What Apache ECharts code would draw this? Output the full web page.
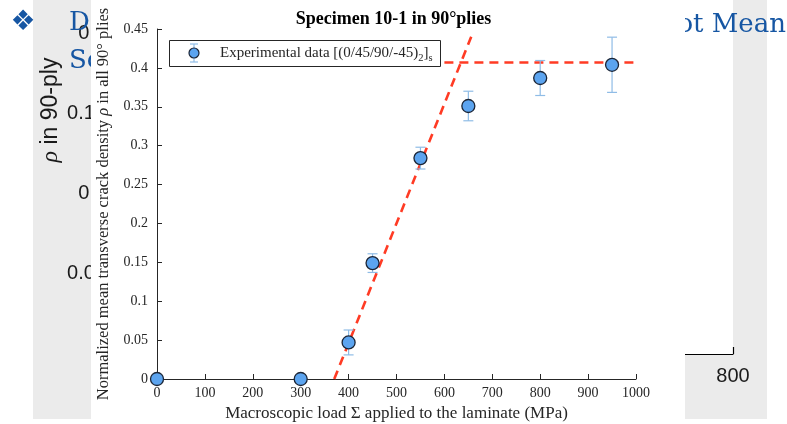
<!DOCTYPE html>
<html>
<head>
<meta charset="utf-8">
<script src="https://cdn.jsdelivr.net/npm/echarts@6/dist/echarts.min.js"></script>
<style>
  html, body { margin: 0; padding: 0; background: #fff; }
  #chart { width: 787px; height: 424px; }
</style>
</head>
<body>
<div id="chart"></div>
<script>
// Crack density measurements, specimen 10-1 (90° plies)
const loads   = [0, 300, 400, 450, 550, 650, 800, 950];               // MPa
const rhoMean = [0, 0, 0.047, 0.149, 0.284, 0.351, 0.387, 0.404];     // normalized density
const rhoErr  = [0, 0, 0.016, 0.012, 0.014, 0.019, 0.0225, 0.0355];   // half-width of error bar

// Fitted trend: linear growth then saturation
const fitRise    = [[370, 0], [656, 0.44]];
const fitPlateau = [[600, 0.407], [1040, 0.407]];

// Main axes ranges [min, max, step]
const xRange = [0, 1000, 100];
const yRange = [0, 0.45, 0.05];

// Slide figure behind the plot (axes partly visible)
const bgXRange = [0, 800, 100];
const bgYRange = [0, 0.25, 0.05];

const serif = 'Liberation Serif';
const sans = 'Liberation Sans';
const axisInk = '#262626';
const markerFill = '#5ca4ef';
const markerEdge = '#1b2536';
const barColor = '#8fbce6';
const fitColor = '#ff3b24';
const slideBlue = '#1656a3';

function textWidth(str, font) {
  const ctx = document.createElement('canvas').getContext('2d');
  ctx.font = font;
  return ctx.measureText(str).width;
}

// Legend pieces (with subscripts)
const legX = 169, legY = 40, legW = 271, legH = 26;
const legTextX = 220, legMidY = legY + legH / 2;
const legFont = 15, legSub = 10.5;
const part1 = 'Experimental data [(0/45/90/-45)';
const w1 = textWidth(part1, legFont + 'px "' + serif + '"');
const w2 = textWidth('2', legSub + 'px "' + serif + '"');
const w3 = textWidth(']', legFont + 'px "' + serif + '"');

const chart = echarts.init(document.getElementById('chart'), null, { renderer: 'canvas' });

const option = {
  animation: false,
  backgroundColor: '#fff',
  title: {
    text: 'Specimen 10-1 in 90°plies',
    left: 'center',
    top: 5,
    z: 10,
    textStyle: { fontFamily: serif, fontWeight: 'bold', fontSize: 18, color: '#000' }
  },
  grid: [
    { left: 157, right: 151, top: 29, bottom: 45, z: 4, outerBoundsMode: 'none', containLabel: false },
    { left: 120, right: 54, top: -47, bottom: 70, z: 1, show: true, backgroundColor: '#fff', borderWidth: 0,
      outerBoundsMode: 'none', containLabel: false }
  ],
  xAxis: [
    {
      gridIndex: 0, type: 'value', min: xRange[0], max: xRange[1], interval: xRange[2], z: 5,
      name: 'Macroscopic load Σ applied to the laminate (MPa)',
      nameLocation: 'middle', nameGap: 24,
      nameTextStyle: { fontFamily: serif, fontSize: 17, color: axisInk },
      axisLine: { lineStyle: { color: axisInk, width: 1 } },
      axisTick: { inside: true, length: 5, lineStyle: { color: axisInk } },
      axisLabel: { fontFamily: serif, fontSize: 14, color: axisInk, margin: 7, formatter: v => String(v) },
      splitLine: { show: false }
    },
    {
      gridIndex: 1, type: 'value', min: bgXRange[0], max: bgXRange[1], interval: bgXRange[2], z: 1,
      axisLine: { lineStyle: { color: '#000', width: 1.2 } },
      axisTick: { inside: true, length: 7, lineStyle: { color: '#000', width: 1.2 } },
      axisLabel: { fontFamily: sans, fontSize: 20, color: '#1a1a1a', margin: 12, showMaxLabel: true },
      splitLine: { show: false }
    }
  ],
  yAxis: [
    {
      gridIndex: 0, type: 'value', min: yRange[0], max: yRange[1], interval: yRange[2], z: 5,
      name: 'Normalized mean transverse crack density {i|ρ} in all 90° plies',
      nameLocation: 'middle', nameGap: 40,
      nameTextStyle: {
        fontFamily: serif, fontSize: 16.5, color: axisInk,
        rich: { i: { fontFamily: serif, fontSize: 16.5, fontStyle: 'italic', color: axisInk } }
      },
      axisLine: { show: true, lineStyle: { color: axisInk, width: 1 } },
      axisTick: { show: true, inside: true, length: 5, lineStyle: { color: axisInk } },
      axisLabel: { fontFamily: serif, fontSize: 14, color: axisInk, margin: 9 },
      splitLine: { show: false }
    },
    {
      gridIndex: 1, type: 'value', min: bgYRange[0], max: bgYRange[1], interval: bgYRange[2], z: 1,
      axisLine: { show: true, lineStyle: { color: '#000' } },
      axisTick: { show: true, inside: true, length: 7, lineStyle: { color: '#000' } },
      axisLabel: { fontFamily: sans, fontSize: 20, color: '#1a1a1a', margin: 14 },
      splitLine: { show: false }
    }
  ],
  graphic: [
    // gray figure backdrop of the slide
    { type: 'rect', z: 0, shape: { x: 33, y: 0, width: 734, height: 419 }, style: { fill: '#ebebeb' } },
    // slide heading and bullet
    { type: 'text', z: 2, x: 23, y: 23,
      style: { text: '❖', font: '28px "DejaVu Sans"', fill: slideBlue, align: 'center', verticalAlign: 'middle' } },
    { type: 'text', z: 2, x: 69, y: 36,
      style: { text: 'D', font: '26px "DejaVu Serif"', fill: slideBlue, align: 'left', verticalAlign: 'bottom' } },
    { type: 'text', z: 2, x: 69, y: 74,
      style: { text: 'Sc', font: '26px "DejaVu Serif"', fill: slideBlue, align: 'left', verticalAlign: 'bottom' } },
    { type: 'text', z: 2, x: 786, y: 38,
      style: { text: 'Root Mean', font: '26px "DejaVu Serif"', fill: slideBlue, align: 'right', verticalAlign: 'bottom' } },
    // axis title of the slide figure
    { type: 'text', z: 2, x: 51, y: 110, rotation: Math.PI / 2,
      style: {
        text: '{i|ρ} in 90-ply',
        font: '23px "' + sans + '"', fill: '#1a1a1a', align: 'center', verticalAlign: 'middle',
        rich: { i: { fontFamily: serif, fontStyle: 'italic', fontSize: 24, fill: '#1a1a1a' } }
      } },
    // white panel of the crack-density plot
    { type: 'rect', z: 3, shape: { x: 91, y: 0, width: 594, height: 424 }, style: { fill: '#fff' } },
    // legend
    { type: 'rect', z: 20, shape: { x: legX + 0.5, y: legY + 0.5, width: legW, height: legH },
      style: { fill: '#fff', stroke: axisInk, lineWidth: 1 } },
    { type: 'line', z: 21, shape: { x1: 194, y1: legMidY - 9, x2: 194, y2: legMidY + 9 }, style: { stroke: barColor, lineWidth: 1.2 } },
    { type: 'line', z: 21, shape: { x1: 190, y1: legMidY - 9, x2: 198, y2: legMidY - 9 }, style: { stroke: barColor, lineWidth: 1.2 } },
    { type: 'line', z: 21, shape: { x1: 190, y1: legMidY + 9, x2: 198, y2: legMidY + 9 }, style: { stroke: barColor, lineWidth: 1.2 } },
    { type: 'circle', z: 22, shape: { cx: 194, cy: legMidY, r: 5 }, style: { fill: markerFill, stroke: markerEdge, lineWidth: 1.2 } },
    { type: 'text', z: 22, x: legTextX, y: legMidY,
      style: { text: part1, font: legFont + 'px "' + serif + '"', fill: axisInk, verticalAlign: 'middle' } },
    { type: 'text', z: 22, x: legTextX + w1, y: legMidY + 5,
      style: { text: '2', font: legSub + 'px "' + serif + '"', fill: axisInk, verticalAlign: 'middle' } },
    { type: 'text', z: 22, x: legTextX + w1 + w2, y: legMidY,
      style: { text: ']', font: legFont + 'px "' + serif + '"', fill: axisInk, verticalAlign: 'middle' } },
    { type: 'text', z: 22, x: legTextX + w1 + w2 + w3, y: legMidY + 5,
      style: { text: 's', font: legSub + 'px "' + serif + '"', fill: axisInk, verticalAlign: 'middle' } }
  ],
  series: [
    {
      name: 'rise', type: 'line', xAxisIndex: 0, yAxisIndex: 0, z: 6, clip: false,
      data: fitRise, symbol: 'none',
      lineStyle: { color: fitColor, width: 2.6, type: [9, 6] }
    },
    {
      name: 'plateau', type: 'line', xAxisIndex: 0, yAxisIndex: 0, z: 6, clip: false,
      data: fitPlateau, symbol: 'none',
      lineStyle: { color: fitColor, width: 2.6, type: [9, 6] }
    },
    {
      name: 'error', type: 'custom', xAxisIndex: 0, yAxisIndex: 0, z: 7,
      data: loads.map((x, i) => [x, rhoMean[i], rhoErr[i]]),
      encode: { x: 0, y: 1 },
      renderItem: function (params, api) {
        const x = api.value(0), m = api.value(1), e = api.value(2);
        if (!e) return null;
        const top = api.coord([x, m + e]);
        const bot = api.coord([x, m - e]);
        const cap = 5;
        const st = { stroke: barColor, lineWidth: 1.2 };
        return {
          type: 'group',
          children: [
            { type: 'line', shape: { x1: top[0], y1: top[1], x2: bot[0], y2: bot[1] }, style: st },
            { type: 'line', shape: { x1: top[0] - cap, y1: top[1], x2: top[0] + cap, y2: top[1] }, style: st },
            { type: 'line', shape: { x1: bot[0] - cap, y1: bot[1], x2: bot[0] + cap, y2: bot[1] }, style: st }
          ]
        };
      }
    },
    {
      name: 'Experimental data', type: 'scatter', xAxisIndex: 0, yAxisIndex: 0, z: 8, clip: false,
      data: loads.map((x, i) => [x, rhoMean[i]]),
      symbol: 'circle', symbolSize: 13,
      itemStyle: { color: markerFill, borderColor: markerEdge, borderWidth: 1.3, opacity: 1 }
    }
  ]
};

chart.setOption(option);
</script>
</body>
</html>
